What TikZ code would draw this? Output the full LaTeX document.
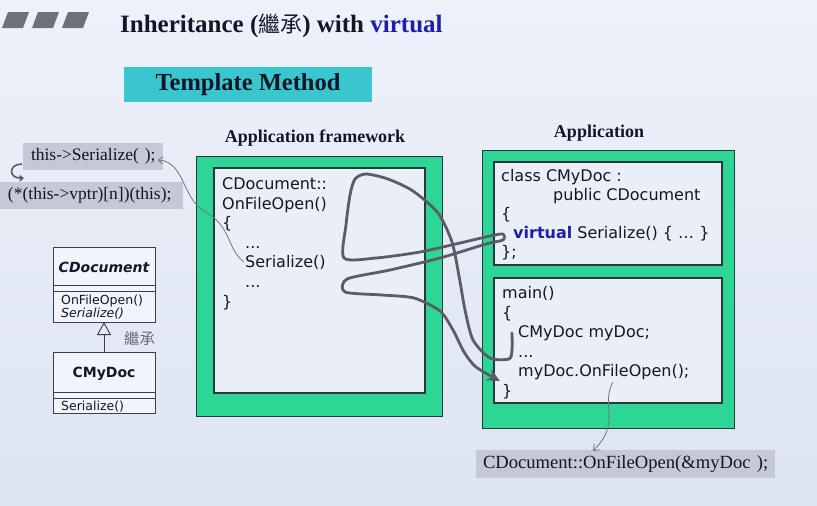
\documentclass[tikz,border=0pt]{standalone}
\usepackage{fontspec}
\setmainfont{Liberation Serif}
\newfontfamily\codefont{DejaVu Sans}
\newfontfamily\cjkfont{Noto Sans CJK TC}
\usetikzlibrary{arrows.meta}
\definecolor{bgtop}{RGB}{237,241,250}
\definecolor{bgbot}{RGB}{221,228,241}
\definecolor{mint}{RGB}{46,214,150}
\definecolor{tealbox}{RGB}{58,198,206}
\definecolor{greybox}{RGB}{196,201,213}
\definecolor{panel}{RGB}{234,239,247}
\definecolor{ink}{RGB}{20,22,38}
\definecolor{vblue}{RGB}{30,30,170}
\definecolor{flowc}{RGB}{88,93,104}
\definecolor{edge}{RGB}{38,56,58}
\definecolor{barg}{RGB}{110,113,124}
\definecolor{umlfill}{RGB}{241,244,250}
\definecolor{umledge}{RGB}{60,62,72}
\definecolor{cjkgrey}{RGB}{105,108,118}
\tikzset{
  nw/.style={anchor=north west, inner sep=0pt, outer sep=0pt},
  outerbox/.style={nw, fill=mint, draw=edge, line width=0.8pt},
  innerbox/.style={nw, fill=panel, draw=edge, line width=1.3pt},
  greytext/.style={nw, fill=greybox, align=left, inner xsep=8pt, font=\fontsize{17.5}{20}\selectfont, text=ink},
  umlbox/.style={nw, fill=umlfill, draw=umledge, line width=0.9pt, minimum width=102pt},
  code/.style={anchor=north west, inner sep=0pt, align=left, text=ink, font=\codefont\fontsize{16}{19.6}\selectfont},
  umltext/.style={anchor=base, inner sep=0pt, text=ink, font=\codefont\fontsize{12.5}{14}\selectfont},
  heading/.style={anchor=base, inner sep=0pt, text=ink, font=\bfseries\fontsize{18}{20}\selectfont},
  flowline/.style={draw=flowc, line width=2.8pt, line cap=round, line join=round},
  thinline/.style={draw=flowc!85, line width=0.8pt},
}
\begin{document}
\begin{tikzpicture}[x=1pt,y=-1pt]
\useasboundingbox (0,0) rectangle (817,506);
\shade[top color=bgtop, bottom color=bgbot] (0,0) rectangle (817,506);

% title bar marks
\foreach \a/\b in {2/8, 32/38, 62/68}{
  \fill[barg] (\a,28) -- (\b,12) -- (\b+21,12) -- (\a+21,28) -- cycle;
}
\node[anchor=base west, inner sep=0pt, text=ink, font=\bfseries\fontsize{25}{28}\selectfont] (title) at (120,32)
  {Inheritance ({\mdseries\cjkfont\fontsize{22}{24}\selectfont 繼承}) with \textcolor{vblue}{virtual}};

% Template Method
\node[nw, fill=tealbox, minimum width=248pt, minimum height=35pt, text=ink,
      font=\bfseries\fontsize{24.5}{28}\selectfont] (tm) at (124,67) {Template Method};

% headings
\node[heading] (hfw) at (315,142) {Application framework};
\node[heading] (happ) at (599,137) {Application};

% left grey boxes
\node[greytext, minimum width=140pt, minimum height=27pt, text width=124pt] (thisbox) at (23,143) {\mbox{this->Serialize(~);}};
\node[greytext, minimum width=183pt, minimum height=27pt, text width=167pt] (vptrbox) at (0,182) {\mbox{(*(this->vptr)[n])(this);}};

% UML classes
\node[umlbox, minimum height=38pt] (cdname) at (53,247) {};
\node[umlbox, minimum height=6pt] (cdsep) at (53,285) {};
\node[umlbox, minimum height=31pt] (cdops) at (53,291) {};
\node[umlbox, minimum height=40pt] (mdname) at (53,352) {};
\node[umlbox, minimum height=6pt] (mdsep) at (53,392) {};
\node[umlbox, minimum height=15pt] (mdops) at (53,398) {};
\node[umltext, font=\codefont\bfseries\itshape\fontsize{14}{16}\selectfont] (cdt) at (104,272) {CDocument};
\node[umltext, anchor=base west] (cdo1) at (61,304) {OnFileOpen()};
\node[umltext, anchor=base west, font=\codefont\itshape\fontsize{12.5}{14}\selectfont] (cdo2) at (61,317) {Serialize()};
\node[umltext, font=\codefont\bfseries\fontsize{14}{16}\selectfont] (mdt) at (104,377) {CMyDoc};
\node[umltext, anchor=base west] (mdo1) at (61,410) {Serialize()};
\draw[umledge, line width=0.9pt, -{Triangle[open, length=13pt, width=14pt]}] (mdname.north) -- (cdops.south);
\node[anchor=base west, inner sep=0pt, text=cjkgrey, font=\cjkfont\fontsize{15.5}{17}\selectfont] (jc) at (124,344) {繼承};

% Application framework
\node[outerbox, minimum width=246pt, minimum height=260pt] (fwout) at (196,156) {};
\node[innerbox, minimum width=211pt, minimum height=225pt] (fwin) at (214,168) {};
\node[code] (fwcode) at (222,177.5)
  {CDocument::\\OnFileOpen()\\\{\\\hspace*{23pt}...\\\hspace*{23pt}Serialize()\\\hspace*{23pt}...\\\}};

% Application
\node[outerbox, minimum width=252pt, minimum height=278pt] (appout) at (482,150) {};
\node[innerbox, minimum width=228pt, minimum height=103pt] (clsbox) at (494,162) {};
\node[innerbox, minimum width=228pt, minimum height=125pt] (mainbox) at (494,278) {};
\node[code, font=\codefont\fontsize{16}{19}\selectfont] (clscode) at (501,169.5)
  {class CMyDoc :\\\hspace*{52pt}public CDocument\\\{\\\hspace*{12pt}\textcolor{vblue}{\bfseries virtual} Serialize() \{ … \}\\\};};
\node[code, font=\codefont\fontsize{16}{19.5}\selectfont] (maincode) at (502,286.5)
  {main()\\\{\\\hspace*{16pt}CMyDoc myDoc;\\\hspace*{16pt}...\\\hspace*{16pt}myDoc.OnFileOpen();\\\}};

% bottom call box
\node[greytext, minimum width=299pt, minimum height=28pt, text width=285pt, inner xsep=7pt,
      font=\fontsize{18.6}{21}\selectfont] (callbox) at (476,450) {\mbox{CDocument::OnFileOpen(\&myDoc~);}};

% thin connectors
\coordinate (serin) at (244,262);
\coordinate (thistip) at (158,160);
\draw[thinline, -{Straight Barb[length=4pt, width=7pt]}] (serin) .. controls (226,248) and (232,226) .. (204,211)
   .. controls (182,198) and (185,162) .. (thistip);
\coordinate (onfo) at (613,382);
\coordinate (calltip) at (593,451);
\draw[thinline, -{Straight Barb[length=5pt, width=8pt]}] (onfo) .. controls (600,405) and (622,422) .. (calltip);

% curl arrow between the two left boxes
\coordinate (curla) at (22,164);
\coordinate (curlb) at (24,178);
\draw[flowc, line width=1.6pt, -{Straight Barb[length=3pt, width=5pt]}] (curla) .. controls (8,164) and (8,179) .. (curlb);

% hand-drawn flow
\coordinate (fstart) at (512,333);
\coordinate (fend) at (500,381);
\draw[flowline, -{Stealth[length=13pt, width=12pt]}] plot[smooth, tension=0.45] coordinates {
  (fstart) (512,350) (509,359) (490,358) (473,340) (465,310) (459,276) (452,242) (438,213)
  (413,191) (388,179) (366,174) (355,179) (350,195) (346,225) (344,258) (376,258) (420,252) (460,243)
  (490,236) (503,234) (503,240) (486,244) (440,258) (390,270) (347,279) (345,292) (382,295)
  (414,298) (440,311) (453,330) (464,352) (476,367) (fend)};
\end{tikzpicture}
\end{document}
